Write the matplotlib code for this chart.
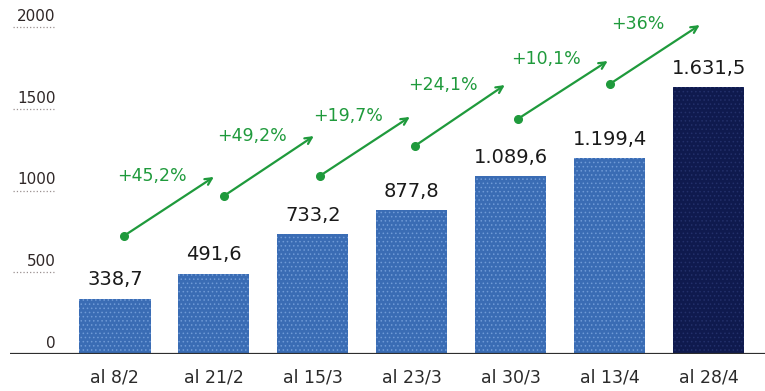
import matplotlib
matplotlib.use("Agg")
import matplotlib.pyplot as plt

fechas = ["al 8/2", "al 21/2", "al 15/3", "al 23/3", "al 30/3", "al 13/4", "al 28/4"]
valores = [338.7, 491.6, 733.2, 877.8, 1089.6, 1199.4, 1631.5]
etiquetas = ["338,7", "491,6", "733,2", "877,8", "1.089,6", "1.199,4", "1.631,5"]
variaciones = ["+45,2%", "+49,2%", "+19,7%", "+24,1%", "+10,1%", "+36%"]
yticks = [0, 500, 1000, 1500, 2000]

# where each green arrow starts / ends (layout only)
flecha_x0 = [0.09, 1.10, 2.07, 3.03, 4.07, 5.00]
flecha_y0 = [722, 966, 1089, 1272, 1437, 1651]
flecha_y1 = [1083, 1333, 1450, 1645, 1792, 2012]

azul = "#3a6cb4"
azul_oscuro = "#0f1a4e"
verde = "#1f9a3c"

plt.rcParams["hatch.linewidth"] = 0.6

fig = plt.figure(figsize=(7.65, 3.91), dpi=100)
ax = fig.add_axes([10 / 765, 37 / 391, 755 / 765, 351.5 / 391])

colores = [azul] * (len(valores) - 1) + [azul_oscuro]
bordes = ["#6f9ad6"] * (len(valores) - 1) + ["#23306a"]
x = list(range(len(valores)))
barras = ax.bar(x, valores, width=0.72, color=colores, edgecolor=bordes,
                linewidth=0, hatch="....", zorder=2)

for i, v in enumerate(valores):
    ax.annotate(etiquetas[i], xy=(i, v), xytext=(0, 9.5), textcoords="offset points",
                ha="center", va="baseline", fontsize=14, color="#1a1a1a")
    ax.text(i, -0.066, fechas[i], transform=ax.get_xaxis_transform(),
            ha="center", va="center", fontsize=12.5, color="#2a2a2a")

# y scale drawn as small labels with dotted marks
for t in yticks:
    ax.annotate(str(t), xy=(-0.6, t), xytext=(0, 4.5), textcoords="offset points",
                ha="right", va="baseline", fontsize=11, color="#2f2727")
    if t > 0:
        ax.hlines(t, -1.03, -0.61, colors="#9a9090", linestyles=":", lw=0.9)

ax.axhline(0, xmin=0, xmax=1, color="#2e2e2e", lw=1.6, zorder=3)

for k, txt in enumerate(variaciones):
    x0 = flecha_x0[k]
    x1 = x0 + 0.91
    y0 = flecha_y0[k]
    y1 = flecha_y1[k]
    ax.annotate("", xy=(x1, y1), xytext=(x0, y0),
                arrowprops=dict(arrowstyle="->", color=verde, lw=1.6,
                                mutation_scale=12, shrinkA=0, shrinkB=0))
    ax.plot([x0], [y0], "o", color=verde, markersize=5.5)
    ax.annotate(txt, xy=((x0 + x1) / 2, (y0 + y1) / 2), xytext=(-12, 22),
                textcoords="offset points", ha="center", va="center",
                fontsize=12.5, color=verde)

ax.set_xlim(-1.06, 6.57)
ax.set_ylim(0, 2150)
ax.axis("off")

plt.savefig("out.png", dpi=100)
